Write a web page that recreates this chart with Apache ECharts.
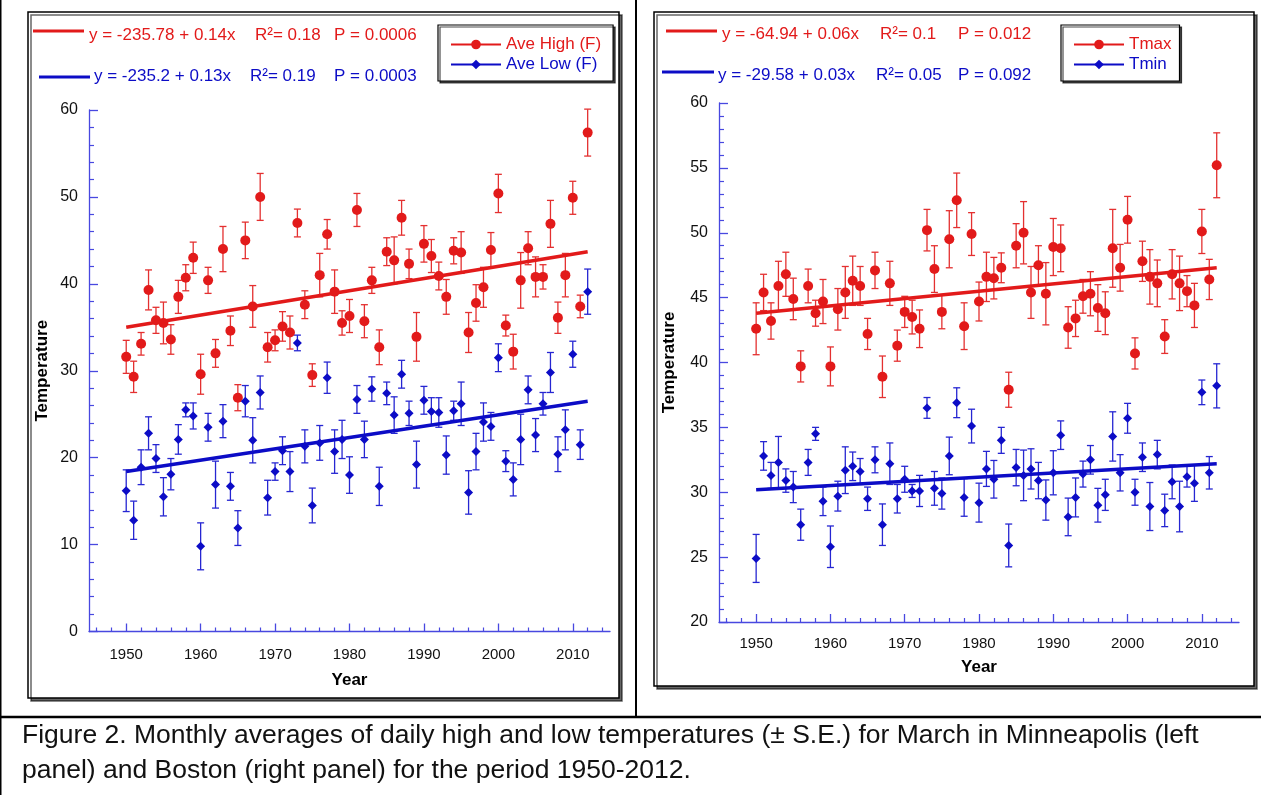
<!DOCTYPE html>
<html>
<head>
<meta charset="utf-8">
<title>March temperatures - Minneapolis and Boston</title>
<script src="https://cdn.jsdelivr.net/npm/echarts@6/dist/echarts.min.js"></script>
<style>
html, body { margin: 0; padding: 0; background: #fff; }
#chart { width: 1261px; height: 795px; }
</style>
</head>
<body>
<div id="chart"></div>
<script>
// years on the x axis
const years = []
for (let y = 1950; y <= 2012; y++) years.push(y)

// Minneapolis, March, daily high (F) and its S.E.
const mspHigh = [
  31.6, 29.3, 33.1, 39.3, 35.8, 35.5, 33.6, 38.5, 40.7, 43.0,
  29.6, 40.4, 32.0, 44.0, 34.6, 26.9, 45.0, 37.4, 50.0, 32.7,
  33.5, 35.1, 34.4, 47.0, 37.6, 29.5, 41.0, 45.7, 39.1, 35.5,
  36.3, 48.5, 35.7, 40.4, 32.7, 43.7, 42.7, 47.6, 42.3, 33.9,
  44.6, 43.2, 40.9, 38.5, 43.8, 43.6, 34.4, 37.8, 39.6, 43.9,
  50.4, 35.2, 32.2, 40.4, 44.1, 40.8, 40.8, 46.9, 36.1, 41.0,
  49.9, 37.4, 57.4
]
const mspHighSE = [
  1.9, 1.8, 1.3, 2.3, 1.5, 2.4, 1.7, 1.9, 1.5, 1.8,
  2.3, 1.5, 1.6, 2.6, 1.7, 1.5, 2.1, 2.4, 2.7, 1.7,
  1.2, 1.7, 1.9, 1.6, 1.6, 1.3, 2.5, 1.7, 2.5, 1.4,
  1.9, 1.9, 1.9, 1.5, 2.0, 1.6, 2.7, 2.0, 1.7, 2.8,
  2.1, 1.9, 1.6, 2.0, 1.5, 2.4, 2.3, 2.1, 2.3, 2.0,
  2.2, 1.2, 2.0, 3.2, 1.9, 2.3, 1.4, 2.7, 1.8, 2.5,
  1.9, 1.3, 2.7
]
// Minneapolis, daily low (F)
const mspLow = [
  16.2, 12.8, 18.9, 22.8, 19.9, 15.5, 18.1, 22.1, 25.5, 24.8,
  9.8, 23.5, 16.9, 24.2, 16.7, 11.9, 26.5, 22.0, 27.5, 15.4,
  18.4, 20.8, 18.4, 33.2, 21.3, 14.5, 21.7, 29.2, 20.7, 22.1,
  18.0, 26.7, 22.1, 27.9, 16.7, 27.4, 24.9, 29.6, 25.1, 19.2,
  26.6, 25.3, 25.2, 20.3, 25.4, 26.2, 16.0, 20.7, 24.1, 23.6,
  31.5, 19.6, 17.5, 22.1, 27.8, 22.6, 26.2, 29.8, 20.4, 23.2,
  31.9, 21.5, 39.1
]
const mspLowSE = [
  2.4, 2.2, 2.0, 1.9, 1.6, 2.2, 1.8, 1.7, 0.8, 1.5,
  2.7, 1.6, 2.7, 1.9, 1.6, 2.0, 1.8, 2.6, 1.9, 2.0,
  1.0, 1.6, 2.3, 0.9, 1.9, 2.0, 2.0, 1.8, 2.5, 2.2,
  2.1, 1.6, 2.1, 1.4, 2.2, 1.3, 2.1, 1.6, 1.4, 2.7,
  1.6, 1.6, 1.7, 2.2, 1.1, 2.5, 2.5, 2.1, 2.2, 1.6,
  1.6, 1.2, 1.9, 2.9, 1.6, 1.9, 1.3, 2.3, 2.0, 2.3,
  1.5, 1.7, 2.6
]

// Boston, Tmax and Tmin
const bosMax = [
  42.6, 45.4, 43.2, 45.9, 46.8, 44.9, 39.7, 45.9, 43.8, 44.7,
  39.7, 44.1, 45.4, 46.3, 45.9, 42.2, 47.1, 38.9, 46.1, 41.3,
  43.9, 43.5, 42.6, 50.2, 47.2, 43.9, 49.5, 52.5, 42.8, 49.9,
  44.7, 46.6, 46.5, 47.3, 37.9, 49.0, 50.0, 45.4, 47.5, 45.3,
  48.9, 48.8, 42.7, 43.4, 45.1, 45.3, 44.2, 43.8, 48.8, 47.3,
  51.0, 40.7, 47.8, 46.6, 46.1, 42.0, 46.8, 46.1, 45.5, 44.4,
  50.1, 46.4, 55.2
]
const bosMaxSE = [
  2.0, 1.4, 1.4, 1.9, 1.7, 1.6, 1.2, 1.3, 1.0, 1.7,
  1.5, 1.6, 2.0, 1.9, 1.5, 1.2, 1.4, 1.6, 1.7, 1.2,
  1.2, 1.3, 1.45, 1.6, 1.8, 1.3, 2.2, 2.1, 1.8, 1.65,
  1.5, 1.9, 1.6, 1.15, 1.35, 1.7, 2.4, 2.0, 1.5, 2.4,
  2.2, 1.8, 1.6, 1.4, 1.3, 1.7, 1.8, 1.65, 3.0, 1.8,
  1.8, 1.2, 1.55, 2.1, 1.8, 1.3, 1.9, 2.1, 1.2, 1.7,
  1.7, 1.55, 2.5
]
const bosMin = [
  24.9, 32.8, 31.3, 32.3, 30.9, 30.4, 27.5, 32.3, 34.5, 29.3,
  25.8, 29.7, 31.7, 32.0, 31.6, 29.5, 32.5, 27.5, 32.2, 29.5,
  31.0, 30.1, 30.1, 36.5, 30.3, 29.9, 32.8, 36.9, 29.6, 35.1,
  29.2, 31.8, 31.0, 34.0, 25.9, 31.9, 31.3, 31.8, 30.9, 29.4,
  31.5, 34.4, 28.1, 29.6, 31.4, 32.5, 29.0, 29.8, 34.3, 31.5,
  35.7, 30.0, 32.7, 28.9, 32.9, 28.6, 30.8, 28.9, 31.2, 30.7,
  37.7, 31.5, 38.2
]
const bosMinSE = [
  1.85, 1.1, 1.0, 2.0, 0.9, 1.2, 1.2, 1.0, 0.5, 1.1,
  1.6, 1.15, 1.8, 1.1, 1.0, 0.9, 1.0, 1.6, 1.6, 1.1,
  1.0, 0.5, 1.2, 0.8, 1.3, 1.2, 1.45, 1.15, 1.45, 1.3,
  1.5, 1.35, 1.45, 1.0, 1.65, 1.4, 1.95, 1.55, 1.4, 1.55,
  1.7, 1.1, 1.45, 1.5, 1.0, 1.1, 1.3, 1.2, 1.9, 1.4,
  1.15, 1.0, 1.1, 1.85, 1.1, 1.25, 1.3, 1.95, 0.8, 1.4,
  0.95, 1.25, 1.7
]

// regression lines, value at 1950 and 2012
const fitYears = [1950, 2012]
const mspHighFit = [35.0, 43.7]
const mspLowFit = [18.4, 26.5]
const bosMaxFit = [43.8, 47.3]
const bosMinFit = [30.2, 32.2]

// x axis ticks
const decadeTicks = [1950, 1960, 1970, 1980, 1990, 2000, 2010]
const evenYearTicks = []
for (let y = 1946; y <= 2014; y += 2) if (y % 10 !== 0) evenYearTicks.push(y)

const FONT = '"Liberation Sans", Arial, Helvetica, sans-serif'
const RED = '#e21a1a'
const BLUE = '#0c0cc6'
const AXIS = '#4848e0'

// error bar: vertical stroke with small caps
const errorBar = (params, api) => {
  const x = api.value(0)
  const lo = api.coord([x, api.value(1)])
  const hi = api.coord([x, api.value(2)])
  const w = 3.5
  const style = { stroke: api.visual('color'), lineWidth: 1.3 }
  return {
    type: 'group',
    children: [
      { type: 'line', shape: { x1: lo[0], y1: lo[1], x2: hi[0], y2: hi[1] }, style },
      { type: 'line', shape: { x1: lo[0] - w, y1: lo[1], x2: lo[0] + w, y2: lo[1] }, style },
      { type: 'line', shape: { x1: hi[0] - w, y1: hi[1], x2: hi[0] + w, y2: hi[1] }, style }
    ]
  }
}

const points = (vals) => years.map((y, i) => [y, vals[i]])
const bars = (vals, se) => years.map((y, i) => [y, vals[i] - se[i], vals[i] + se[i]])
const fit = (vals) => fitYears.map((y, i) => [y, vals[i]])

const xAxesFor = (grid, labelMargin, nameGap) => [
  {
    type: 'value', gridIndex: grid, position: 'bottom', min: 1945, max: 2015,
    name: 'Year', nameLocation: 'middle', nameGap: nameGap,
    nameTextStyle: { fontFamily: FONT, fontSize: 17, fontWeight: 'bold', color: '#000' },
    axisLine: { onZero: false, lineStyle: { color: AXIS, width: 1.3 } },
    axisTick: { inside: true, length: 8, customValues: decadeTicks, lineStyle: { color: AXIS, width: 1.3 } },
    axisLabel: { customValues: decadeTicks, formatter: (v) => String(v), margin: labelMargin,
      fontFamily: FONT, fontSize: 15, color: '#111' },
    splitLine: { show: false }
  },
  {
    type: 'value', gridIndex: grid, position: 'bottom', min: 1945, max: 2015,
    axisLine: { show: false, onZero: false },
    axisTick: { inside: true, length: 4, customValues: evenYearTicks, lineStyle: { color: AXIS, width: 1.2 } },
    axisLabel: { show: false },
    splitLine: { show: false }
  }
]

const yAxisFor = (grid, min, max, interval, nameGap) => ({
  type: 'value', gridIndex: grid, min, max, interval,
  name: 'Temperature', nameLocation: 'middle', nameGap: nameGap,
  nameTextStyle: { fontFamily: FONT, fontSize: 17, fontWeight: 'bold', color: '#000' },
  axisLine: { show: true, onZero: false, lineStyle: { color: AXIS, width: 1.3 } },
  axisTick: { show: true, inside: true, length: 9, lineStyle: { color: AXIS, width: 1.3 } },
  minorTick: { show: true, splitNumber: 5, length: 5, lineStyle: { color: AXIS, width: 1.2 } },
  axisLabel: { margin: 11, fontFamily: FONT, fontSize: 16, color: '#111' },
  splitLine: { show: false }
})

// series for one panel
const panel = (xi, yi, hiName, loName, hi, hiSE, lo, loSE, hiFit, loFit) => [
  { type: 'custom', xAxisIndex: xi, yAxisIndex: yi, renderItem: errorBar, itemStyle: { color: '#e43030' },
    encode: { x: 0, y: [1, 2] }, data: bars(hi, hiSE), z: 2 },
  { type: 'custom', xAxisIndex: xi, yAxisIndex: yi, renderItem: errorBar, itemStyle: { color: '#2626d2' },
    encode: { x: 0, y: [1, 2] }, data: bars(lo, loSE), z: 2 },
  { type: 'scatter', xAxisIndex: xi, yAxisIndex: yi, symbol: 'circle', symbolSize: 10,
    itemStyle: { color: RED, opacity: 1 }, data: points(hi), z: 3 },
  { type: 'scatter', xAxisIndex: xi, yAxisIndex: yi, symbol: 'diamond', symbolSize: 9,
    itemStyle: { color: BLUE, opacity: 1 }, data: points(lo), z: 3 },
  { type: 'line', xAxisIndex: xi, yAxisIndex: yi, symbol: 'none', data: fit(hiFit),
    lineStyle: { color: RED, width: 3.5 }, z: 4 },
  { type: 'line', xAxisIndex: xi, yAxisIndex: yi, symbol: 'none', data: fit(loFit),
    lineStyle: { color: BLUE, width: 3.5 }, z: 4 },
  // legend entries only
  { name: hiName, type: 'line', xAxisIndex: xi, yAxisIndex: yi, data: [], symbol: 'circle', symbolSize: 10,
    itemStyle: { color: RED }, lineStyle: { color: RED, width: 3 } },
  { name: loName, type: 'line', xAxisIndex: xi, yAxisIndex: yi, data: [], symbol: 'diamond', symbolSize: 8,
    itemStyle: { color: BLUE }, lineStyle: { color: BLUE, width: 3 } }
]

const legendFor = (left, padding, names) => ({
  left, top: 25, orient: 'vertical', padding, itemWidth: 50, itemHeight: 12, itemGap: 3,
  backgroundColor: '#fff', borderColor: '#000', borderWidth: 1.2,
  shadowColor: 'rgba(0,0,0,0.7)', shadowOffsetX: 2, shadowOffsetY: 2,
  selectedMode: false,
  textStyle: { fontFamily: FONT, fontSize: 17 },
  data: [
    { name: names[0], textStyle: { color: RED } },
    { name: names[1], textStyle: { color: BLUE } }
  ]
})

const txt = (text, x, y, color, size) => ({
  type: 'text', z: 10,
  style: { text, x, y, fill: color, font: size + 'px ' + FONT, verticalAlign: 'middle', align: 'left' }
})
const seg = (x1, y, x2, color) => ({
  type: 'line', z: 10, shape: { x1, y1: y, x2, y2: y }, style: { stroke: color, lineWidth: 3 }
})

const chart = echarts.init(document.getElementById('chart'))
chart.setOption({
  animation: false,
  backgroundColor: '#fff',
  grid: [
    { left: 89, top: 110, width: 521, height: 521.5 },
    { left: 719, top: 103, width: 520, height: 519 }
  ],
  xAxis: [...xAxesFor(0, 16, 40), ...xAxesFor(1, 14, 36.5)],
  yAxis: [yAxisFor(0, 0, 60, 10, 38), yAxisFor(1, 20, 60, 5, 41)],
  legend: [
    legendFor(438, [11, 12, 8, 12], ['Ave High (F)', 'Ave Low (F)']),
    legendFor(1061, [11, 8, 8, 12], ['Tmax', 'Tmin'])
  ],
  series: [
    ...panel(0, 0, 'Ave High (F)', 'Ave Low (F)', mspHigh, mspHighSE, mspLow, mspLowSE, mspHighFit, mspLowFit),
    ...panel(2, 1, 'Tmax', 'Tmin', bosMax, bosMaxSE, bosMin, bosMinSE, bosMaxFit, bosMinFit)
  ],
  graphic: [
    // page frame
    { type: 'line', shape: { x1: 0.75, y1: 0, x2: 0.75, y2: 795 }, style: { stroke: '#000', lineWidth: 1.5 } },
    { type: 'line', shape: { x1: 636, y1: 0, x2: 636, y2: 717 }, style: { stroke: '#000', lineWidth: 2 } },
    { type: 'line', shape: { x1: 0, y1: 717, x2: 1261, y2: 717 }, style: { stroke: '#000', lineWidth: 2.5 } },
    // panel boxes
    { type: 'rect', z: -10, shape: { x: 28, y: 12, width: 591, height: 686 },
      style: { fill: '#fff', stroke: '#000', lineWidth: 1.5, shadowColor: 'rgba(0,0,0,0.6)', shadowOffsetX: 3, shadowOffsetY: 3 } },
    { type: 'rect', z: -10, shape: { x: 654, y: 12, width: 600, height: 674 },
      style: { fill: '#fff', stroke: '#000', lineWidth: 1.5, shadowColor: 'rgba(0,0,0,0.6)', shadowOffsetX: 3, shadowOffsetY: 3 } },
    // regression equations, left panel
    seg(33, 31, 84, RED),
    txt('y = -235.78 + 0.14x', 89, 35, RED, 17),
    txt('R²= 0.18', 255, 35, RED, 17),
    txt('P = 0.0006', 334, 35, RED, 17),
    seg(39, 77, 90, BLUE),
    txt('y = -235.2 + 0.13x', 94, 76, BLUE, 17),
    txt('R²= 0.19', 250, 76, BLUE, 17),
    txt('P = 0.0003', 334, 76, BLUE, 17),
    // right panel
    seg(666, 31, 717, RED),
    txt('y = -64.94 + 0.06x', 722, 34, RED, 17),
    txt('R²= 0.1', 880, 34, RED, 17),
    txt('P = 0.012', 958, 34, RED, 17),
    seg(662, 72, 714, BLUE),
    txt('y = -29.58 + 0.03x', 718, 75.5, BLUE, 17),
    txt('R²= 0.05', 876, 75.5, BLUE, 17),
    txt('P = 0.092', 958, 75.5, BLUE, 17),
    // caption
    txt('Figure 2. Monthly averages of daily high and low temperatures (± S.E.) for March in Minneapolis (left', 22, 736, '#111', 26.5),
    txt('panel) and Boston (right panel) for the period 1950-2012.', 22, 771, '#111', 26.5)
  ]
})
</script>
</body>
</html>
